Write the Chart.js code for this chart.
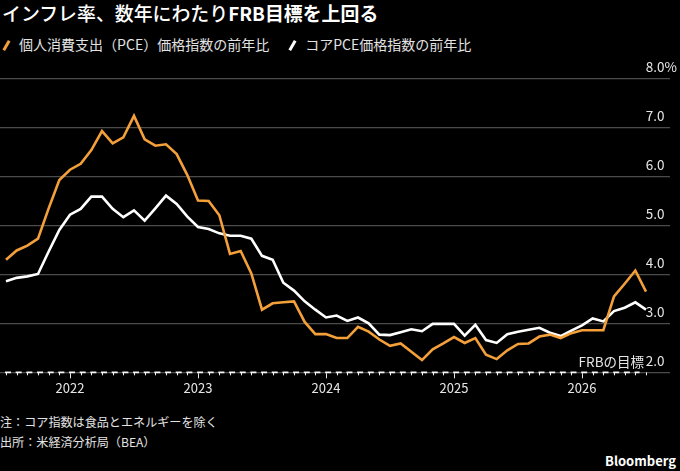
<!DOCTYPE html>
<html lang="ja">
<head>
<meta charset="utf-8">
<title>インフレ率、数年にわたりFRB目標を上回る</title>
<script src="https://cdn.jsdelivr.net/npm/chart.js@4.4.1/dist/chart.umd.min.js"></script>
<style>
  html, body { margin: 0; padding: 0; background: #000; }
  body {
    width: 680px; height: 471px; position: relative; overflow: hidden;
    font-family: "Noto Sans CJK JP", "Noto Sans", sans-serif; color: #e3e3e3;
  }
  #title { position: absolute; left: 2px; top: 0; font-size: 18.9px; line-height: 26px; color: #fff; white-space: nowrap; }
  #title .lead { font-weight: 500; }
  #title .strong { font-weight: 700; }
  #legend { position: absolute; left: 0; top: 34px; font-size: 14px; line-height: 20px; white-space: nowrap; }
  #legend .item { display: inline-block; margin-right: 17px; }
  #legend .mark { display: inline-block; width: 2.6px; height: 11px; transform: rotate(30deg); margin: 0 11.5px 0 5px; vertical-align: -1px; }
  #chart-box { position: absolute; left: 0; top: 50px; width: 680px; height: 350px; }
  #notes { position: absolute; left: 0; top: 412px; font-size: 12.1px; line-height: 19.5px; white-space: nowrap; }
  #brand { position: absolute; right: 4px; top: 451px; font-size: 13px; font-weight: 700; color: #fff; }
</style>
</head>
<body>
<div id="title"><span class="lead">インフレ率、数年にわたり</span><span class="strong">FRB目標を上回る</span></div>
<div id="legend">
  <span class="item"><i class="mark" style="background:#f4a03a"></i>個人消費支出（PCE）価格指数の前年比</span><span class="item"><i class="mark" style="background:#ffffff"></i>コアPCE価格指数の前年比</span>
</div>
<div id="chart-box"><canvas id="inflationChart" width="680" height="350"></canvas></div>
<div id="notes">
  <div>注：コア指数は食品とエネルギーを除く</div>
  <div>出所：米経済分析局（BEA）</div>
</div>
<div id="brand">Bloomberg</div>

<script>
// monthly data, first point = July 2021
const firstMonth = 7;
const yearLabels = ["2022", "2023", "2024", "2025", "2026"];
const yTicks = [2, 3, 4, 5, 6, 7, 8];
const fedTarget = 2.0;

// 個人消費支出（PCE）価格指数の前年比
const pce = [
  4.30, 4.49, 4.59, 4.73, 5.35, 5.93,
  6.14, 6.26, 6.54, 6.93, 6.68, 6.80, 7.24, 6.76, 6.63, 6.66, 6.46, 6.03,
  5.51, 5.50, 5.21, 4.42, 4.48, 4.02, 3.28, 3.41, 3.43, 3.45, 3.03, 2.78,
  2.78, 2.70, 2.70, 2.93, 2.83, 2.67, 2.54, 2.59, 2.42, 2.25, 2.47, 2.59,
  2.72, 2.60, 2.70, 2.36, 2.27, 2.45, 2.58, 2.59, 2.73, 2.77, 2.70, 2.80,
  2.86, 2.86, 2.86, 3.55, 3.81, 4.08, 3.65
];

// コアPCE価格指数の前年比
const corePce = [
  3.86, 3.93, 3.96, 4.01, 4.47, 4.91,
  5.22, 5.34, 5.59, 5.59, 5.34, 5.17, 5.31, 5.10, 5.35, 5.61, 5.44, 5.18,
  4.97, 4.93, 4.84, 4.79, 4.79, 4.73, 4.38, 4.30, 3.83, 3.67, 3.45, 3.28,
  3.12, 3.16, 3.05, 3.12, 3.00, 2.77, 2.76, 2.82, 2.88, 2.84, 2.99, 2.99,
  2.99, 2.75, 2.97, 2.66, 2.60, 2.78, 2.83, 2.87, 2.91, 2.81, 2.74, 2.85,
  2.96, 3.10, 3.04, 3.25, 3.32, 3.43, 3.28
];

const janIdx = (13 - firstMonth) % 12;
const isJan = i => i >= janIdx && (i - janIdx) % 12 === 0;
const textColor = "#e6e6e6";

Chart.defaults.font.family = "'Noto Sans CJK JP', 'Noto Sans', sans-serif";

// FRB target line, month ticks and its label
const targetLine = {
  id: "targetLine",
  beforeDatasetsDraw(chart) {
    const { ctx, chartArea, scales: { x, y } } = chart;
    const yPix = y.getPixelForValue(fedTarget);
    ctx.save();
    ctx.strokeStyle = "#f5f5f5";
    ctx.lineWidth = 1.8;
    ctx.setLineDash([6, 4.67]);
    ctx.beginPath();
    ctx.moveTo(chartArea.left + 5, yPix);
    ctx.lineTo(x.getPixelForValue(59.4), yPix);
    ctx.stroke();

    ctx.setLineDash([]);
    ctx.lineWidth = 1;
    ctx.beginPath();
    pce.forEach((_, i) => {
      if (isJan(i)) return;
      const px = Math.round(x.getPixelForValue(i)) + 0.5;
      ctx.moveTo(px, yPix);
      ctx.lineTo(px, yPix + 3);
    });
    ctx.stroke();

    ctx.fillStyle = textColor;
    ctx.font = "13.5px 'Noto Sans CJK JP'";
    ctx.textAlign = "right";
    ctx.textBaseline = "middle";
    ctx.fillText("FRBの目標", chartArea.right - 26, yPix - 10);
    ctx.restore();
  }
};

new Chart(document.getElementById("inflationChart"), {
  type: "line",
  data: {
    datasets: [
      {
        label: "個人消費支出（PCE）価格指数の前年比",
        data: pce.map((v, i) => ({ x: i, y: v })),
        borderColor: "#f4a03a",
        borderWidth: 2.6,
        pointRadius: 0,
        tension: 0
      },
      {
        label: "コアPCE価格指数の前年比",
        data: corePce.map((v, i) => ({ x: i, y: v })),
        borderColor: "#ffffff",
        borderWidth: 2.6,
        pointRadius: 0,
        tension: 0
      }
    ]
  },
  options: {
    responsive: false,
    animation: false,
    layout: { padding: { top: 28.7, left: 0, right: 10, bottom: 0 } },
    plugins: {
      legend: { display: false },
      tooltip: { enabled: false }
    },
    scales: {
      x: {
        type: "linear",
        min: -0.5625,
        max: 62.25,
        afterBuildTicks: s => { s.ticks = pce.map((_, i) => ({ value: i })); },
        afterFit: s => { s.height = 27.7; },
        ticks: {
          autoSkip: false,
          maxRotation: 0,
          padding: 2,
          color: textColor,
          font: { size: 13 },
          callback: v => isJan(v) ? yearLabels[(v - janIdx) / 12] : ""
        },
        grid: {
          drawOnChartArea: false,
          drawTicks: true,
          tickLength: 6,
          tickWidth: 1,
          tickColor: c => isJan(c.tick.value) ? textColor : "rgba(0,0,0,0)"
        },
        border: { display: false }
      },
      y: {
        position: "right",
        min: 2,
        max: 8,
        afterBuildTicks: s => { s.ticks = yTicks.map(v => ({ value: v })); },
        afterFit: s => { s.width = 0; },
        ticks: {
          mirror: true,
          crossAlign: "far",
          padding: 7,
          labelOffset: -11.5,
          color: textColor,
          font: { size: 13.5 },
          callback: v => v === 8 ? "8.0%" : v.toFixed(1)
        },
        grid: { color: "#4b4b4b", lineWidth: 1.2, drawTicks: false },
        border: { display: false }
      }
    }
  },
  plugins: [targetLine]
});
</script>
</body>
</html>
